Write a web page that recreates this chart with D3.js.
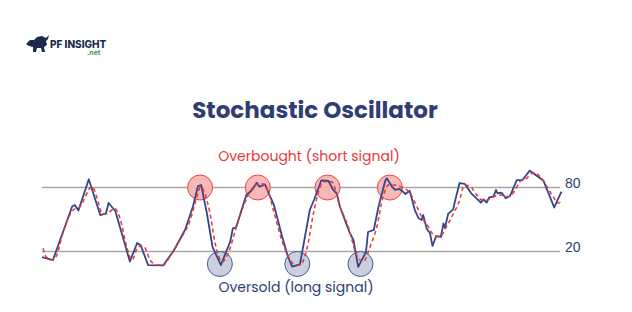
<!DOCTYPE html>
<html>
<head>
<meta charset="utf-8">
<script src="https://cdn.jsdelivr.net/npm/d3@7"></script>
<style>
  body { margin: 0; background: #fff; }
  svg { display: block; }
</style>
</head>
<body>
<svg id="chart"></svg>
<script>
// DATA - %K line (period, value)
const kPeriods = [0, 2.1, 5.8, 6.3, 7.0, 9.0, 11.2, 12.3, 12.8, 14.1, 16.9, 18.3, 19.0, 20.4, 23.3, 25.4, 27.5, 29.0, 30.0, 30.6,
  31.7, 32.8, 34.4, 36.2, 36.7, 37.3, 39.3, 40.4, 41.3, 41.8, 42.9, 43.9, 44.6, 46.1, 47.3, 48.1, 49.6, 51.5, 52.3, 53.7,
  55.1, 56.0, 56.7, 57.3, 58.6, 59.2, 59.9, 60.8, 62.3, 62.7, 63.8, 64.7, 66.0, 66.3, 67.3, 67.9, 68.8, 69.9, 70.7, 71.7,
  72.4, 73.0, 73.3, 74.0, 74.6, 75.1, 75.8, 76.7, 77.2, 77.5, 78.1, 79.1, 79.4, 80.3, 81.3, 82.5, 84.4, 84.9, 85.5, 86.0,
  86.8, 87.3, 87.6, 88.4, 89.2, 90.0, 91.3, 92.4, 93.8, 96.4, 98.5, 99.9];
const kValues = [14.8, 12.0, 62.2, 63.6, 58.4, 87.7, 54.2, 55.8, 65.5, 58.0, 10.6, 28.0, 25.6, 7.3, 6.9, 21.4, 40.2, 61.7, 81.4, 82.3,
  56.1, 24.2, 7.3, 29.4, 41.7, 42.5, 73.0, 77.7, 84.5, 80.9, 82.8, 71.1, 63.6, 35.5, 15.1, 5.9, 7.8, 58.9, 68.3, 86.6,
  86.1, 77.7, 74.4, 62.0, 44.8, 37.3, 30.8, 5.5, 19.5, 38.3, 40.2, 61.7, 86.1, 88.6, 80.9, 77.7, 78.6, 73.9, 77.0, 58.9,
  51.4, 49.5, 54.2, 41.1, 37.3, 25.2, 34.5, 33.6, 46.4, 42.0, 55.2, 59.8, 66.7, 84.2, 83.3, 74.8, 65.8, 68.9, 65.8, 70.8,
  71.4, 77.7, 74.6, 75.1, 69.9, 72.0, 87.0, 87.0, 95.8, 86.6, 61.3, 76.1];

// %D line (period, value)
const dPeriods = [0.2, 0.8, 2.1, 2.7, 4.1, 6.0, 7.3, 9.6, 10.8, 11.5, 12.4, 14.0, 15.0, 16.3, 17.3, 18.5, 19.5, 20.8, 22.1, 23.3,
  24.6, 26.5, 28.5, 29.8, 30.5, 31.3, 32.3, 33.3, 34.7, 35.8, 37.4, 38.7, 40.0, 41.6, 42.6, 43.5, 44.5, 46.1, 47.4, 48.7,
  49.9, 50.9, 52.2, 53.1, 54.1, 55.7, 57.3, 58.9, 60.5, 61.8, 63.1, 64.4, 65.6, 66.6, 67.6, 69.2, 70.8, 72.1, 73.0, 74.3,
  75.3, 76.5, 77.8, 78.8, 80.1, 81.3, 82.3, 83.6, 84.6, 85.5, 86.8, 88.4, 89.7, 91.0, 91.9, 93.2, 94.5, 95.8, 97.1, 98.3,
  99.3, 99.9];
const dValues = [23.0, 15.1, 12.0, 15.1, 38.6, 58.9, 62.0, 80.8, 66.7, 55.8, 55.2, 60.5, 51.1, 24.5, 12.0, 24.5, 25.2, 12.0, 7.3, 7.3,
  15.1, 30.8, 49.5, 71.4, 80.8, 74.6, 55.8, 27.7, 10.4, 18.3, 43.3, 62.0, 76.1, 83.3, 83.3, 76.1, 58.9, 30.8, 15.1, 7.3,
  8.9, 21.4, 55.8, 74.6, 85.4, 85.4, 62.0, 43.3, 16.7, 10.4, 24.5, 43.3, 71.4, 82.3, 82.3, 80.2, 74.6, 62.0, 52.6, 43.3,
  35.5, 33.9, 43.3, 52.6, 65.2, 82.3, 81.4, 73.0, 68.3, 68.3, 71.4, 73.0, 71.4, 77.7, 85.4, 88.6, 93.9, 90.1, 80.8, 71.4,
  65.2, 68.3];

// levels and signals
const levels = [80, 20];
const overboughtAt = [30.4, 41.5, 54.9, 66.9];
const oversoldAt = [34.2, 49.1, 61.25];
const oversoldLevel = 8.3;

const width = 632, height = 312;
const svg = d3.select("#chart").attr("width", width).attr("height", height);

const x = d3.scaleLinear().domain([0, 100]).range([42, 562]);
const y = d3.scaleLinear().domain([20, 80]).range([251.5, 187.5]);

const navy = "#2f3e72";
const font = "Poppins, Inter, 'Open Sans', sans-serif";

// logo
const logo = svg.append("g");
logo.append("path")
    .attr("d", "M26,44 L30,40 L34,40 L37,37 L42,36 L46,38 L49,35 L48,39 L46,41 L47,45 L44,47 L45,52 L42,52 L41,48 L37,48 L36,52 L33,52 L33,47 L29,46 Z")
    .attr("fill", "#1c2b4d");
logo.append("text")
    .attr("x", 50).attr("y", 47.5)
    .attr("font-family", "Inter, sans-serif")
    .attr("font-weight", 800)
    .attr("font-size", "10px")
    .attr("fill", "#1c2b4d")
    .text("PF INSIGHT");
logo.append("text")
    .attr("x", 87).attr("y", 55)
    .attr("font-family", "Inter, sans-serif")
    .attr("font-weight", 700)
    .attr("font-size", "7px")
    .attr("fill", "#2da44e")
    .text(".net");

// title
svg.append("text")
    .attr("x", 315).attr("y", 118)
    .attr("text-anchor", "middle")
    .attr("font-family", font)
    .attr("font-weight", 700)
    .attr("font-size", "23px")
    .attr("fill", navy)
    .text("Stochastic Oscillator");

svg.append("text")
    .attr("x", 309).attr("y", 161)
    .attr("text-anchor", "middle")
    .attr("font-family", font)
    .attr("font-size", "14px")
    .attr("fill", "#e53b3b")
    .text("Overbought (short signal)");

svg.append("text")
    .attr("x", 296).attr("y", 292)
    .attr("text-anchor", "middle")
    .attr("font-family", font)
    .attr("font-size", "14px")
    .attr("fill", navy)
    .text("Oversold (long signal)");

// level lines
svg.selectAll("line.level")
    .data(levels)
    .enter()
    .append("line")
    .attr("class", "level")
    .attr("x1", x(0)).attr("x2", x(99.6))
    .attr("y1", d => y(d)).attr("y2", d => y(d))
    .attr("stroke", "#a8a8a8")
    .attr("stroke-width", 1.5);

svg.selectAll("text.level")
    .data(levels)
    .enter()
    .append("text")
    .attr("class", "level")
    .attr("x", 565)
    .attr("y", d => y(d) + 0.5)
    .attr("font-family", "'Liberation Sans', Arial, sans-serif")
    .attr("font-size", "14px")
    .attr("fill", navy)
    .text(d => d);

// signal circles
svg.selectAll("circle.ob")
    .data(overboughtAt)
    .enter()
    .append("circle")
    .attr("class", "ob")
    .attr("cx", d => x(d)).attr("cy", y(80))
    .attr("r", 12.5)
    .attr("fill", "#f6b0b0")
    .attr("fill-opacity", 0.9)
    .attr("stroke", "#e84545")
    .attr("stroke-width", 1);

svg.selectAll("circle.os")
    .data(oversoldAt)
    .enter()
    .append("circle")
    .attr("class", "os")
    .attr("cx", d => x(d)).attr("cy", y(oversoldLevel))
    .attr("r", 12.5)
    .attr("fill", "#c7cddc")
    .attr("fill-opacity", 0.95)
    .attr("stroke", "#4a5a8c")
    .attr("stroke-width", 1);

// lines
const line = d3.line()
    .x(d => x(d[0]))
    .y(d => y(d[1]));

svg.append("path")
    .datum(d3.zip(kPeriods, kValues))
    .attr("fill", "none")
    .attr("stroke", "#34478a")
    .attr("stroke-width", 1.8)
    .attr("stroke-linejoin", "round")
    .attr("d", line);

svg.append("path")
    .datum(d3.zip(dPeriods, dValues))
    .attr("fill", "none")
    .attr("stroke", "#ec3434")
    .attr("stroke-width", 1.5)
    .attr("stroke-dasharray", "4,3")
    .attr("d", line.curve(d3.curveMonotoneX));
</script>
</body>
</html>
